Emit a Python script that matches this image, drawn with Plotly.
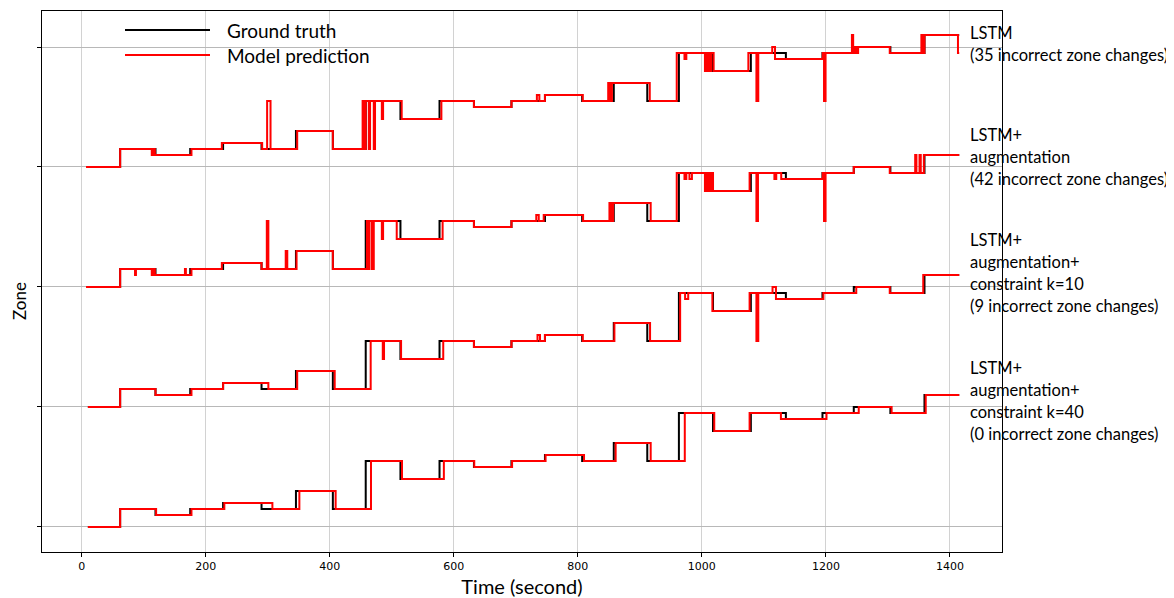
import numpy as np
import plotly.graph_objects as go

# ---------------- data (zone change points: time in s, zone index) ----------------
gt_t = [10, 62, 119, 175, 228, 290, 345.5, 405, 458, 514, 577, 632.5, 693, 747, 807, 858, 912,
        963, 1018, 1079, 1135.5, 1194.5, 1245, 1304, 1359, 1415]
gt_z = [0, 3, 2, 3, 4, 3, 6, 3, 11, 8, 11, 10, 11, 12, 11, 14, 11,
        19, 16, 19, 18, 19, 20, 19, 22, 22]

# LSTM
p1_t = [7, 62, 113, 115.5, 118, 177, 226, 291, 299, 304.5, 347.5, 405,
        453, 456, 458, 463, 465, 471, 473, 484, 486, 516,
        580, 632.5, 693, 734, 738, 747, 808, 849, 851, 852, 854, 855, 916,
        959.5, 972, 975, 1005, 1007, 1009, 1011, 1013, 1015, 1019,
        1075, 1088, 1091, 1113.5, 1118, 1195, 1197, 1199.5,
        1242, 1244, 1247, 1249, 1252, 1303, 1354, 1357, 1359, 1413, 1415]
p1_z = [0, 3, 2, 3, 2, 3, 4, 3, 11, 3, 6, 3,
        11, 3, 11, 3, 11, 3, 11, 8, 11, 8,
        11, 10, 11, 12, 11, 12, 11, 14, 11, 14, 11, 14, 11,
        19, 18, 19, 16, 19, 16, 19, 16, 19, 16,
        19, 11, 19, 20, 18, 19, 11, 19,
        22, 19, 20, 19, 20, 19, 22, 19, 22, 19, 19]

# LSTM + augmentation
p2_t = [7, 62, 86, 87.5, 113, 115.5, 118, 166.5, 168, 177, 226, 290, 298.5, 301, 329, 331.5, 346.5, 405,
        460, 462, 464, 468, 471, 484, 486, 508,
        582, 632.5, 693, 733, 737, 745, 808.5, 851, 853, 854, 856, 857, 917.5,
        959.5, 972, 975, 980, 984, 1005, 1007, 1009, 1011, 1013, 1015, 1018,
        1077, 1088, 1090.5, 1117, 1120, 1128, 1195, 1197, 1199.5, 1245, 1303,
        1344, 1346, 1351, 1353, 1358, 1415]
p2_z = [0, 3, 2, 3, 2, 3, 2, 3, 2, 3, 4, 3, 11, 3, 6, 3, 6, 3,
        11, 3, 11, 3, 11, 8, 11, 8,
        11, 10, 11, 12, 11, 12, 11, 14, 11, 14, 11, 14, 11,
        19, 18, 19, 18, 19, 16, 19, 16, 19, 16, 19, 16,
        19, 11, 19, 18, 19, 18, 19, 11, 19, 20, 19,
        22, 19, 22, 19, 22, 22]

# LSTM + augmentation + constraint k=10
p3_t = [10, 62, 119, 177, 228, 301, 347.5, 408, 466, 485.5, 487.5, 515, 583, 632.5, 693,
        735, 739, 747, 808, 859, 916.5, 965, 973, 978, 1017, 1077, 1088, 1091,
        1114, 1119.5, 1196, 1249, 1303, 1357, 1415]
p3_z = [0, 3, 2, 3, 4, 3, 6, 3, 11, 8, 11, 8, 11, 10, 11,
        12, 11, 12, 11, 14, 11, 19, 18, 19, 16, 19, 11, 19,
        20, 18, 19, 20, 19, 22, 22]

# LSTM + augmentation + constraint k=40
p4_t = [10, 62, 120, 177, 230, 307.5, 351, 409.5, 466.5, 516.5, 584, 633, 694, 748, 810, 861,
        917.5, 972.5, 1020, 1077, 1127.5, 1201, 1253, 1306, 1361, 1415]
p4_z = [0, 3, 2, 3, 4, 3, 6, 3, 11, 8, 11, 10, 11, 12, 11, 14,
        11, 19, 16, 19, 18, 19, 20, 19, 22, 22]

panel_offsets = [60, 40, 20, 0]
predictions = [(p1_t, p1_z), (p2_t, p2_z), (p3_t, p3_z), (p4_t, p4_z)]
panel_labels = [
    ["LSTM", "(35 incorrect zone changes)"],
    ["LSTM+", "augmentation", "(42 incorrect zone changes)"],
    ["LSTM+", "augmentation+", "constraint k=10", "(9 incorrect zone changes)"],
    ["LSTM+", "augmentation+", "constraint k=40", "(0 incorrect zone changes)"],
]
legend_names = ["Ground truth", "Model prediction"]
legend_colors = ["black", "#ff0000"]
x_ticks = [0, 200, 400, 600, 800, 1000, 1200, 1400]

# ---------------- figure ----------------
# page is rendered with an 8px body margin; figure pixel = page pixel - 8
OFF = 8
W, H = 1174 - OFF, 598 - OFF
L, R, T, B = 42 - OFF, 1174 - 1002, 11 - OFF, 598 - 552
PW, PH = W - L - R, H - T - B


def px(xp):  # page x -> paper x
    return (xp - OFF - L) / PW


def py(yp):  # page y -> paper y
    return 1 - (yp - OFF - T) / PH


fig = go.Figure()
for i, off in enumerate(panel_offsets):
    fig.add_trace(go.Scatter(
        x=gt_t, y=np.array(gt_z) + off, mode="lines",
        line=dict(color=legend_colors[0], width=2, shape="hv"),
        name=legend_names[0], showlegend=False))
for i, (off, (pt, pz)) in enumerate(zip(panel_offsets, predictions)):
    fig.add_trace(go.Scatter(
        x=pt, y=np.array(pz) + off, mode="lines",
        line=dict(color=legend_colors[1], width=2, shape="hv"),
        name=legend_names[1], showlegend=False))

FONT = "Lato, 'Open Sans', sans-serif"
TICKFONT = dict(family="DejaVu Sans", size=11, color="#000")

# legend drawn as key lines + text
for k, (name, col) in enumerate(zip(legend_names, legend_colors)):
    yk = 30 + 25 * k
    fig.add_shape(type="line", xref="paper", yref="paper", x0=px(125), x1=px(210), y0=py(yk), y1=py(yk),
                  line=dict(color=col, width=2))
    fig.add_annotation(text=name, xref="paper", yref="paper", x=px(225), y=py(yk),
                       xanchor="left", yanchor="middle", showarrow=False,
                       font=dict(family=FONT, size=19, color="#000"))

# right-hand labels
first_line_px = [33, 135, 240, 368]
line_gap = 22
for lines, y0 in zip(panel_labels, first_line_px):
    for j, txt in enumerate(lines):
        fig.add_annotation(
            text=txt, xref="paper", yref="paper", x=px(968), y=py(y0 + j * line_gap),
            xanchor="left", yanchor="middle", showarrow=False,
            font=dict(family=FONT, size=16.5, color="#000"))

# y-axis label
fig.add_annotation(text="Zone", xref="paper", yref="paper", x=px(19), y=py(301),
                   xanchor="center", yanchor="middle", textangle=-90, showarrow=False,
                   font=dict(family=FONT, size=17, color="#000"))

fig.update_layout(
    width=W, height=H,
    margin=dict(l=L, r=R, t=T, b=B),
    plot_bgcolor="white", paper_bgcolor="white",
    showlegend=False,
    xaxis=dict(range=[-64, 1484], tickvals=x_ticks, ticks="outside", ticklen=4, tickcolor="#000",
               showgrid=True, gridcolor="#d2d2d2", gridwidth=1, zeroline=False,
               showline=True, linecolor="#000", linewidth=1, mirror=True,
               tickfont=TICKFONT, automargin=False,
               title=dict(text="Time (second)", font=dict(family=FONT, size=20, color="#000"), standoff=9)),
    yaxis=dict(range=[-4.17, 86], tickvals=[0, 20, 40, 60, 80], showticklabels=False,
               ticks="outside", ticklen=4, tickcolor="#000",
               showgrid=True, gridcolor="#b8b8b8", gridwidth=1, zeroline=False,
               showline=True, linecolor="#000", linewidth=1, mirror=True, automargin=False),
)

fig.write_html("out.html")
